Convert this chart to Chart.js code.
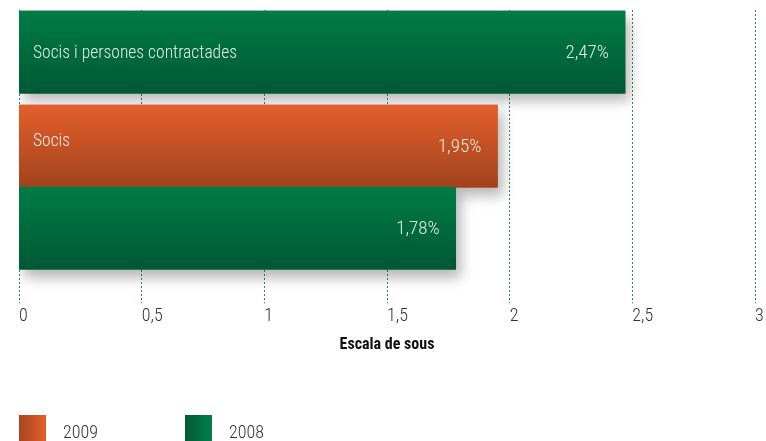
<!DOCTYPE html>
<html>
<head>
<meta charset="utf-8">
<script src="https://cdn.jsdelivr.net/npm/chart.js@4/dist/chart.umd.min.js"></script>
<style>
  html, body { margin: 0; padding: 0; background: #fff; overflow: hidden; }
  #wrap { position: relative; width: 766px; height: 441px; }
  #legend { position: absolute; left: 0; top: 415px; font-size: 18px; font-weight: 300; color: #333; }
  .item { position: absolute; top: 0; white-space: nowrap; }
  .swatch { position: absolute; top: 0; width: 27px; height: 26px; }
  .lbl { position: absolute; top: 6px; }
</style>
</head>
<body>
<div id="wrap">
  <canvas id="chart" width="766" height="441"></canvas>
  <div id="legend"></div>
</div>
<script>
const categories = ['Socis i persones contractades', 'Socis'];
const values2009 = [null, 1.95];
const values2008 = [2.47, 1.78];
const tickLabels = ['0', '0,5', '1', '1,5', '2', '2,5', '3'];
const seriesNames = ['2009', '2008'];

const FONT = "'Roboto Condensed', 'DejaVu Sans Condensed', sans-serif";

const gradients = {
  '2009': ['#e35f2b', '#a2431e'],
  '2008': ['#007c46', '#005834']
};

const toPoints = vals => categories.map((c, i) => ({ y: i, x: vals[i] }));
const fmt = v => v.toFixed(2).replace('.', ',') + '%';

// soft shadow under bars, then bars redrawn flat so shadows only fall on empty space
const barLook = {
  id: 'barLook',
  beforeDatasetsDraw(chart) {
    const ctx = chart.ctx;
    chart.getSortedVisibleDatasetMetas().forEach(meta => {
      const cols = gradients[chart.data.datasets[meta.index].label];
      meta.data.forEach(el => {
        if (isNaN(el.y) || isNaN(el.x)) return;
        const top = el.y - el.height / 2;
        const g = ctx.createLinearGradient(0, top, 0, top + el.height);
        g.addColorStop(0, cols[0]);
        g.addColorStop(1, cols[1]);
        el.options = Object.assign({}, el.options, { backgroundColor: g });
      });
    });
    ctx.save();
    ctx.shadowColor = 'rgba(0,0,0,0.28)';
    ctx.shadowBlur = 12;
    ctx.shadowOffsetX = 5;
    ctx.shadowOffsetY = 8;
  },
  afterDatasetsDraw(chart) {
    const ctx = chart.ctx;
    ctx.restore();
    // redraw top to bottom without shadow
    const els = [];
    chart.data.datasets.forEach((ds, di) => {
      chart.getDatasetMeta(di).data.forEach((el, i) => {
        if (ds.data[i].x !== null) els.push(el);
      });
    });
    els.sort((a, b) => a.y - b.y).forEach(el => el.draw(ctx, chart.chartArea));

    ctx.save();
    ctx.textBaseline = 'middle';
    ctx.fillStyle = 'rgba(240,245,240,0.95)';
    categories.forEach((cat, i) => {
      let first = null;
      chart.data.datasets.forEach((ds, di) => {
        if (ds.data[i].x === null) return;
        const el = chart.getDatasetMeta(di).data[i];
        if (!first || el.y < first.y) first = el;
        ctx.font = '300 19px ' + FONT;
        ctx.textAlign = 'right';
        ctx.fillText(fmt(ds.data[i].x), el.x - 16, el.y + 1);
      });
      if (first) {
        ctx.font = '300 17.5px ' + FONT;
        ctx.textAlign = 'left';
        ctx.fillText(cat, chart.chartArea.left + 14, first.y + (i === 0 ? 1 : -5));
      }
    });
    ctx.restore();
  }
};

new Chart(document.getElementById('chart'), {
  type: 'bar',
  data: {
    datasets: [
      { label: seriesNames[0], data: toPoints(values2009) },
      { label: seriesNames[1], data: toPoints(values2008) }
    ]
  },
  options: {
    indexAxis: 'y',
    responsive: false,
    animation: false,
    devicePixelRatio: 1,
    layout: { padding: { left: 19, right: 11, top: 10, bottom: 82 } },
    datasets: {
      bar: { barThickness: 82, skipNull: true, grouped: true, borderWidth: 0, backgroundColor: '#888' }
    },
    scales: {
      y: {
        type: 'linear',
        reverse: true,
        offset: false,
        min: -0.312,
        max: 1.822,
        display: false
      },
      x: {
        type: 'linear',
        position: 'bottom',
        min: 0,
        max: 3,
        afterFit: s => { s.paddingRight = 0; s.paddingLeft = 0; },
        ticks: {
          stepSize: 0.5,
          align: 'start',
          padding: 2,
          color: '#333',
          font: { family: FONT, size: 18, weight: 300 },
          callback: (v, i) => tickLabels[i]
        },
        grid: {
          color: '#2f8a63',
          lineWidth: 1,
          tickLength: 5,
          tickBorderDash: [2, 2]
        },
        border: { display: false, dash: [2, 2] },
        title: {
          display: true,
          text: 'Escala de sous',
          color: '#111',
          font: { family: FONT, size: 16, weight: 'bold' },
          padding: { top: 7, bottom: 4 }
        }
      }
    },
    plugins: {
      legend: { display: false },
      tooltip: { enabled: false }
    }
  },
  plugins: [barLook]
});

// legend below the plot
const legendSpots = [19, 185];
const legendSwatch = {
  '2009': 'linear-gradient(to right, #a8461f, #e35f2b)',
  '2008': 'linear-gradient(to right, #005a35, #008049)'
};
const legend = document.getElementById('legend');
legend.style.fontFamily = FONT;
seriesNames.forEach((name, i) => {
  const item = document.createElement('div');
  item.className = 'item';
  item.style.left = legendSpots[i] + 'px';
  item.innerHTML = '<div class="swatch" style="background:' + legendSwatch[name] + '"></div><div class="lbl" style="left:44px">' + name + '</div>';
  legend.appendChild(item);
});
</script>
</body>
</html>
